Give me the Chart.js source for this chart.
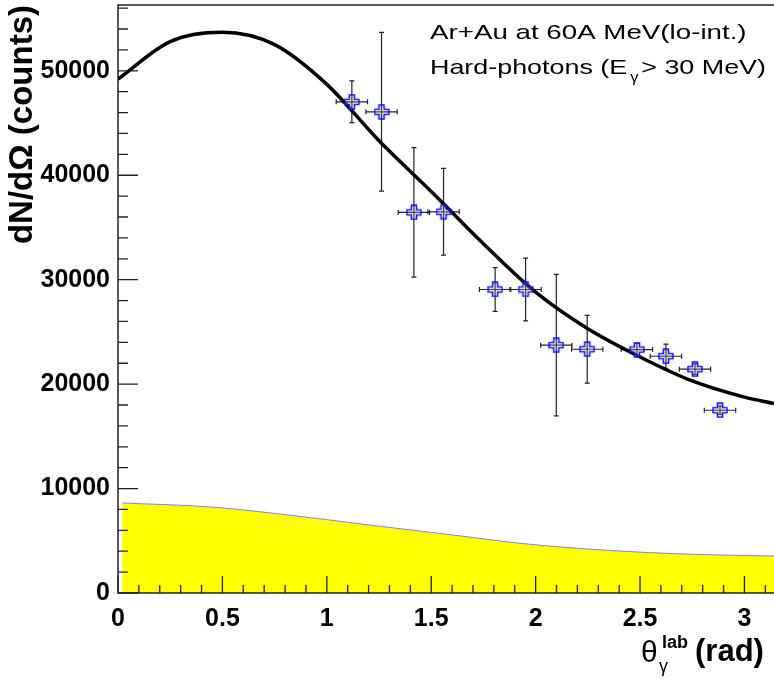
<!DOCTYPE html>
<html>
<head>
<meta charset="utf-8">
<script src="https://cdn.jsdelivr.net/npm/chart.js@4/dist/chart.umd.min.js"></script>
<style>
  html, body { margin: 0; padding: 0; background: #fff; }
  #wrap { width: 774px; height: 679px; }
</style>
</head>
<body>
<div id="wrap"><canvas id="chart" width="774" height="679"></canvas></div>
<script>
// measured hard-photon points (theta in rad, counts)
const thetaPts  = [1.120, 1.262, 1.417, 1.559, 1.806, 1.952, 2.099, 2.247, 2.485, 2.624, 2.763, 2.883];
const countsPts = [47030, 46070, 36440, 36500, 29060, 29060, 23730, 23340, 23310, 22670, 21430, 17500];
const countsErr = [2000, 7600, 6200, 4150, 2100, 3000, 6770, 3240, 600, 1150, 500, 400];
const thetaErr  = [0.075, 0.075, 0.075, 0.075, 0.075, 0.075, 0.075, 0.075, 0.075, 0.075, 0.075, 0.075];

// fitted curve
const fitTheta  = [0, 0.25, 0.5, 0.75, 1.0, 1.25, 1.5, 1.75, 2.0, 2.25, 2.5, 2.75, 3.0, 3.1416];
const fitCounts = [49200, 52800, 53680, 52500, 48700, 43300, 38450, 33440, 28800, 25300, 22600, 20300, 18750, 18140];

// yellow band at the bottom
const bandTheta  = [0.02, 0.44, 0.76, 1.24, 1.59, 1.94, 2.34, 2.74, 3.1416];
const bandCounts = [8620, 8240, 7600, 6420, 5590, 4730, 4090, 3710, 3540];

// axis ticks
const xTicks = [0, 0.5, 1, 1.5, 2, 2.5, 3];
const yTicks = [0, 10000, 20000, 30000, 40000, 50000];

// open cross marker (ROOT style)
function makeCross() {
    const c = document.createElement('canvas');
    c.width = 16; c.height = 16;
    const g = c.getContext('2d');
    const m = 8, a = 2.6, r = 7;
    g.beginPath();
    g.moveTo(m - a, m - r); g.lineTo(m + a, m - r); g.lineTo(m + a, m - a);
    g.lineTo(m + r, m - a); g.lineTo(m + r, m + a); g.lineTo(m + a, m + a);
    g.lineTo(m + a, m + r); g.lineTo(m - a, m + r); g.lineTo(m - a, m + a);
    g.lineTo(m - r, m + a); g.lineTo(m - r, m - a); g.lineTo(m - a, m - a);
    g.closePath();
    g.fillStyle = 'rgba(150,150,150,0.35)';
    g.fill();
    g.strokeStyle = '#1010ff';
    g.lineWidth = 1.4;
    g.stroke();
    return c;
}

// draws the stretched text used for the annotation
function stretchText(ctx, text, x, y, font, sx) {
    ctx.save();
    ctx.font = font;
    ctx.translate(x, y);
    ctx.scale(sx, 1);
    ctx.fillText(text, 0, 0);
    const w = ctx.measureText(text).width * sx;
    ctx.restore();
    return w;
}

const rootStyle = {
    id: 'rootStyle',
    beforeDatasetsDraw(chart) {
        // error bars
        const ctx = chart.ctx, xs = chart.scales.x, ys = chart.scales.y;
        ctx.save();
        ctx.strokeStyle = '#222';
        ctx.lineWidth = 1.2;
        for (let i = 0; i < thetaPts.length; i++) {
            const px = xs.getPixelForValue(thetaPts[i]);
            const py = ys.getPixelForValue(countsPts[i]);
            const x1 = xs.getPixelForValue(thetaPts[i] - thetaErr[i]);
            const x2 = xs.getPixelForValue(thetaPts[i] + thetaErr[i]);
            const y1 = ys.getPixelForValue(countsPts[i] + countsErr[i]);
            const y2 = ys.getPixelForValue(countsPts[i] - countsErr[i]);
            ctx.beginPath();
            ctx.moveTo(x1, py); ctx.lineTo(x2, py);
            ctx.moveTo(x1, py - 2.5); ctx.lineTo(x1, py + 2.5);
            ctx.moveTo(x2, py - 2.5); ctx.lineTo(x2, py + 2.5);
            ctx.moveTo(px, y1); ctx.lineTo(px, y2);
            ctx.moveTo(px - 2.5, y1); ctx.lineTo(px + 2.5, y1);
            ctx.moveTo(px - 2.5, y2); ctx.lineTo(px + 2.5, y2);
            ctx.stroke();
        }
        ctx.restore();
    },
    afterDatasetsDraw(chart) {
        const ctx = chart.ctx, xs = chart.scales.x, ys = chart.scales.y;
        const a = chart.chartArea;
        ctx.save();
        // frame
        ctx.strokeStyle = '#222';
        ctx.lineWidth = 1.5;
        ctx.beginPath();
        ctx.moveTo(a.right + 2, a.top); ctx.lineTo(a.left, a.top);
        ctx.lineTo(a.left, a.bottom); ctx.lineTo(a.right + 2, a.bottom);
        ctx.stroke();
        // ticks inside the frame
        ctx.lineWidth = 1.3;
        ctx.beginPath();
        for (let k = 0; k <= 31; k++) {
            const v = k / 10;
            const px = xs.getPixelForValue(v);
            const len = (k % 5 === 0) ? 17 : 8;
            ctx.moveTo(px, a.bottom); ctx.lineTo(px, a.bottom - len);
        }
        for (let v = 0; v <= ys.max; v += 2000) {
            const py = ys.getPixelForValue(v);
            const len = (v % 10000 === 0) ? 20 : 10;
            ctx.moveTo(a.left, py); ctx.lineTo(a.left + len, py);
        }
        ctx.stroke();
        ctx.restore();
    },
    afterDraw(chart) {
        const ctx = chart.ctx;
        ctx.save();
        ctx.fillStyle = '#000';
        ctx.textBaseline = 'alphabetic';
        // annotation
        const f = '21px "Liberation Sans", Arial, sans-serif';
        stretchText(ctx, 'Ar+Au at 60A MeV(lo-int.)', 430, 39, f, 1.32);
        let w = stretchText(ctx, 'Hard-photons (E', 430, 74, f, 1.28);
        stretchText(ctx, 'γ', 430 + w + 3, 82, '15px "Liberation Sans", Arial, sans-serif', 1.1);
        stretchText(ctx, '> 30 MeV)', 430 + w + 14, 74, f, 1.28);
        // x axis title
        ctx.font = '30px "Liberation Sans", Arial, sans-serif';
        ctx.fillText('θ', 641, 662);
        ctx.font = 'bold 18px "Liberation Sans", Arial, sans-serif';
        ctx.fillText('lab', 662, 648);
        ctx.font = '18px "Liberation Sans", Arial, sans-serif';
        ctx.fillText('γ', 659, 672);
        ctx.font = 'bold 31px "Liberation Sans", Arial, sans-serif';
        ctx.fillText('(rad)', 695, 661);
        ctx.restore();
    }
};

const ctx = document.getElementById('chart').getContext('2d');

new Chart(ctx, {
    type: 'scatter',
    data: {
        datasets: [
            {
                // data points
                data: thetaPts.map((t, i) => ({ x: t, y: countsPts[i] })),
                pointStyle: makeCross(),
                pointRadius: 8,
                showLine: false,
                order: 0
            },
            {
                // fit
                type: 'line',
                data: fitTheta.map((t, i) => ({ x: t, y: fitCounts[i] })),
                borderColor: '#000',
                borderWidth: 3.5,
                pointRadius: 0,
                fill: false,
                cubicInterpolationMode: 'monotone',
                order: 1
            },
            {
                // yellow band
                type: 'line',
                data: bandTheta.map((t, i) => ({ x: t, y: bandCounts[i] })),
                borderColor: '#8080ff',
                borderWidth: 1,
                backgroundColor: '#ffff00',
                pointRadius: 0,
                fill: 'origin',
                cubicInterpolationMode: 'monotone',
                order: 2
            }
        ]
    },
    options: {
        responsive: false,
        animation: false,
        layout: { autoPadding: false, padding: { top: 5, right: 0, left: 0, bottom: 0 } },
        plugins: {
            legend: { display: false },
            tooltip: { enabled: false }
        },
        scales: {
            x: {
                type: 'linear',
                min: 0,
                max: Math.PI,
                afterFit: s => { s.height = 86; s.paddingLeft = 0; s.paddingRight = 0; },
                afterBuildTicks: s => { s.ticks = xTicks.map(v => ({ value: v })); },
                grid: { display: false, drawTicks: false },
                border: { display: false },
                ticks: {
                    padding: 11,
                    color: '#000',
                    font: { family: '"Liberation Sans", Arial, sans-serif', size: 25, weight: 'bold' },
                    callback: v => String(v)
                }
            },
            y: {
                min: 0,
                max: 56300,
                afterFit: s => { s.width = 118; s.paddingTop = 0; s.paddingBottom = 0; },
                afterBuildTicks: s => { s.ticks = yTicks.map(v => ({ value: v })); },
                grid: { display: false, drawTicks: false },
                border: { display: false },
                ticks: {
                    padding: 8,
                    color: '#000',
                    font: { family: '"Liberation Sans", Arial, sans-serif', size: 25, weight: 'bold' },
                    callback: v => String(v)
                },
                title: {
                    display: true,
                    text: 'dN/dΩ (counts)',
                    align: 'end',
                    color: '#000',
                    padding: { top: 3, bottom: 0 },
                    font: { family: '"Liberation Sans", Arial, sans-serif', size: 33, weight: 'bold' }
                }
            }
        }
    },
    plugins: [rootStyle]
});
</script>
</body>
</html>
